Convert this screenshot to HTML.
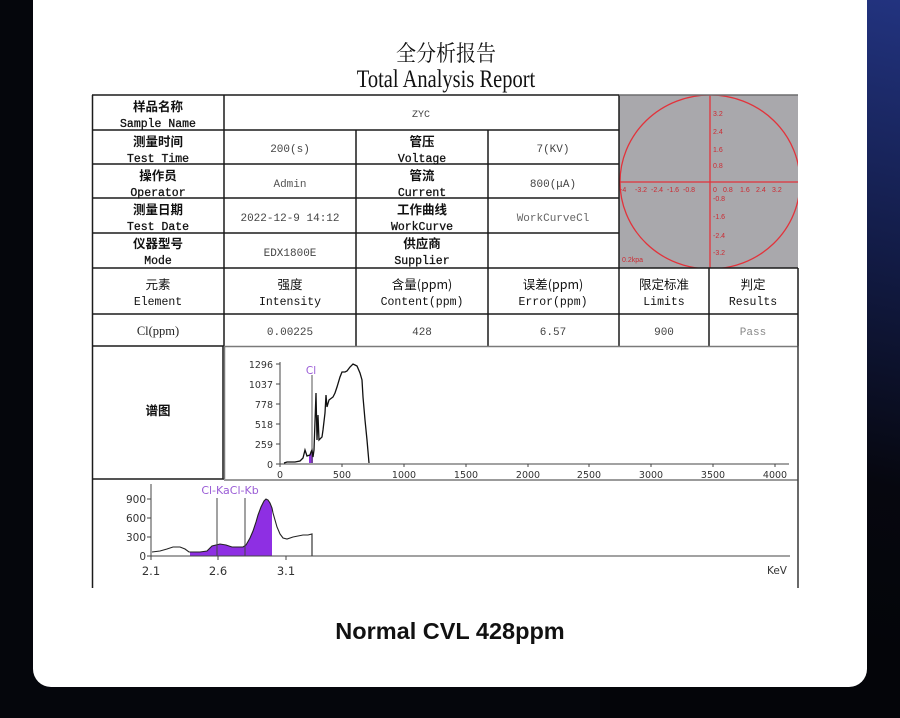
<!DOCTYPE html>
<html><head><meta charset="utf-8"><style>
html,body{margin:0;padding:0;background:#05060c;}
svg{display:block;}
</style></head><body>
<svg width="900" height="718" viewBox="0 0 900 718" xmlns="http://www.w3.org/2000/svg">
<defs>
<linearGradient id="bg" gradientUnits="userSpaceOnUse" x1="900" y1="0" x2="760" y2="620">
<stop offset="0" stop-color="#22337f"/>
<stop offset="0.4" stop-color="#121b45"/>
<stop offset="0.75" stop-color="#06070f"/>
<stop offset="1" stop-color="#040509"/>
</linearGradient>
<clipPath id="ph"><rect x="619" y="95" width="179" height="173"/></clipPath>
</defs>
<rect x="0" y="0" width="900" height="718" fill="#05060c"/>
<rect x="600" y="0" width="300" height="718" fill="url(#bg)"/>
<rect x="33" y="-30" width="834" height="717" rx="18" fill="#ffffff"/>

<!-- Title -->
<g transform="translate(446,61) scale(1,1.1)"><text x="0" y="0" text-anchor="middle" font-family="Noto Serif CJK SC, serif" font-size="20" fill="#111">全分析报告</text></g>
<g transform="translate(446,87) scale(1,1.22)"><text x="0" y="0" text-anchor="middle" font-family="Liberation Serif, serif" font-size="20.5" fill="#111">Total Analysis Report</text></g>

<!-- Photo -->
<g clip-path="url(#ph)">
<rect x="619" y="95" width="179" height="173" fill="#a9a8ac"/>
<ellipse cx="710" cy="182" rx="90" ry="87" fill="none" stroke="#e2333b" stroke-width="1.3"/>
<line x1="619" y1="182" x2="798" y2="182" stroke="#e2333b" stroke-width="1.3"/>
<line x1="710" y1="95" x2="710" y2="268" stroke="#e2333b" stroke-width="1.3"/>
<g font-family="Liberation Sans, sans-serif" font-size="7" fill="#cc2a32">
<text x="713" y="116">3.2</text><text x="713" y="134">2.4</text><text x="713" y="152">1.6</text><text x="713" y="168">0.8</text>
<text x="713" y="201">-0.8</text><text x="713" y="219">-1.6</text><text x="713" y="238">-2.4</text><text x="713" y="255">-3.2</text>
<text x="620" y="192">-4</text><text x="635" y="192">-3.2</text><text x="651" y="192">-2.4</text><text x="667" y="192">-1.6</text><text x="683" y="192">-0.8</text>
<text x="713" y="192">0</text><text x="723" y="192">0.8</text><text x="740" y="192">1.6</text><text x="756" y="192">2.4</text><text x="772" y="192">3.2</text>
<text x="622" y="262">0.2kpa</text>
</g>
</g>

<!-- Table lines -->
<g stroke="#1b1b1b" stroke-width="1.5" fill="none">
<line x1="92" y1="95" x2="619" y2="95"/>
<line x1="92" y1="130" x2="619" y2="130"/>
<line x1="92" y1="164" x2="619" y2="164"/>
<line x1="92" y1="198" x2="619" y2="198"/>
<line x1="92" y1="233" x2="619" y2="233"/>
<line x1="92" y1="268" x2="798" y2="268"/>
<line x1="92" y1="314" x2="798" y2="314"/>
<line x1="92" y1="346" x2="224" y2="346"/>
<line x1="92" y1="479" x2="224" y2="479"/>
<line x1="92.5" y1="95" x2="92.5" y2="588"/>
<line x1="224" y1="95" x2="224" y2="346"/>
<line x1="223" y1="346" x2="223" y2="479"/>
<line x1="356" y1="130" x2="356" y2="346"/>
<line x1="488" y1="130" x2="488" y2="346"/>
<line x1="619" y1="95" x2="619" y2="346"/>
<line x1="709" y1="268" x2="709" y2="346"/>
<line x1="798" y1="268" x2="798" y2="346"/>
</g>
<line x1="619" y1="95" x2="798" y2="95" stroke="#6d6d6f" stroke-width="1.5"/>
<!-- chart boxes -->
<g stroke="#7a7a7a" stroke-width="1.5" fill="none">
<line x1="224" y1="346.5" x2="798" y2="346.5"/>
<line x1="224.5" y1="346" x2="224.5" y2="479"/>
<line x1="224" y1="480" x2="798" y2="480"/>
</g>
<line x1="798" y1="346" x2="798" y2="588" stroke="#444" stroke-width="1.6"/>

<!-- Label column texts -->
<g font-family="Noto Sans CJK SC, sans-serif" font-size="12.5" font-weight="bold" fill="#111" text-anchor="middle">
<text x="158" y="111">样品名称</text>
<text x="158" y="146">测量时间</text>
<text x="158" y="180">操作员</text>
<text x="158" y="214">测量日期</text>
<text x="158" y="248">仪器型号</text>
<text x="422" y="146">管压</text>
<text x="422" y="180">管流</text>
<text x="422" y="214">工作曲线</text>
<text x="422" y="248">供应商</text>
<text x="158" y="415">谱图</text>
</g>
<g font-family="Noto Sans CJK SC, sans-serif" font-size="12.5" fill="#111" text-anchor="middle">
<text x="158" y="289">元素</text>
<text x="290" y="289">强度</text>
<text x="553" y="289">误差(ppm)</text>
<text x="422" y="289">含量(ppm)</text>
<text x="664" y="289">限定标准</text>
<text x="753" y="289">判定</text>
</g>
<g font-family="Liberation Mono, monospace" font-size="11.5" fill="#111" stroke="#111" stroke-width="0.3" text-anchor="middle">
<text x="158" y="127">Sample Name</text>
<text x="158" y="162">Test Time</text>
<text x="158" y="196">Operator</text>
<text x="158" y="230">Test Date</text>
<text x="158" y="264">Mode</text>
<text x="422" y="162">Voltage</text>
<text x="422" y="196">Current</text>
<text x="422" y="230">WorkCurve</text>
<text x="422" y="264">Supplier</text>
</g>
<g font-family="Liberation Mono, monospace" font-size="11.5" fill="#111" text-anchor="middle">
<text x="158" y="305">Element</text>
<text x="290" y="305">Intensity</text>
<text x="422" y="305">Content(ppm)</text>
<text x="553" y="305">Error(ppm)</text>
<text x="664" y="305">Limits</text>
<text x="753" y="305">Results</text>
</g>
<!-- values -->
<g font-family="Liberation Mono, monospace" font-size="11" fill="#444" text-anchor="middle">
<text x="421" y="117" font-size="10">ZYC</text>
<text x="290" y="152">200(s)</text>
<text x="553" y="152">7(KV)</text>
<text x="290" y="187" fill="#555">Admin</text>
<text x="553" y="187">800(μA)</text>
<text x="290" y="221">2022-12-9 14:12</text>
<text x="553" y="221" fill="#666">WorkCurveCl</text>
<text x="290" y="256">EDX1800E</text>
<text x="290" y="335">0.00225</text>
<text x="422" y="335">428</text>
<text x="553" y="335">6.57</text>
<text x="664" y="335">900</text>
<text x="753" y="335" fill="#888">Pass</text>
</g>
<text x="158" y="335" text-anchor="middle" font-family="Liberation Serif, serif" font-size="12.5" fill="#222">Cl(ppm)</text>

<!-- Upper chart -->
<g stroke="#444" stroke-width="1" fill="none">
<line x1="280" y1="362" x2="280" y2="464"/>
<line x1="278" y1="464" x2="789" y2="464"/>
<line x1="276" y1="364" x2="280" y2="364"/>
<line x1="276" y1="384" x2="280" y2="384"/>
<line x1="276" y1="404" x2="280" y2="404"/>
<line x1="276" y1="424" x2="280" y2="424"/>
<line x1="276" y1="444" x2="280" y2="444"/>
<line x1="276" y1="464" x2="280" y2="464"/>
<line x1="280" y1="464" x2="280" y2="467"/>
<line x1="342" y1="464" x2="342" y2="467"/>
<line x1="404" y1="464" x2="404" y2="467"/>
<line x1="466" y1="464" x2="466" y2="467"/>
<line x1="528" y1="464" x2="528" y2="467"/>
<line x1="589" y1="464" x2="589" y2="467"/>
<line x1="651" y1="464" x2="651" y2="467"/>
<line x1="713" y1="464" x2="713" y2="467"/>
<line x1="775" y1="464" x2="775" y2="467"/>
</g>
<g font-family="DejaVu Sans, sans-serif" font-size="9.5" fill="#333" text-anchor="end">
<text x="273" y="368">1296</text>
<text x="273" y="388">1037</text>
<text x="273" y="408">778</text>
<text x="273" y="428">518</text>
<text x="273" y="448">259</text>
<text x="273" y="468">0</text>
</g>
<g font-family="DejaVu Sans, sans-serif" font-size="9.5" fill="#333" text-anchor="middle">
<text x="280" y="478">0</text>
<text x="342" y="478">500</text>
<text x="404" y="478">1000</text>
<text x="466" y="478">1500</text>
<text x="528" y="478">2000</text>
<text x="589" y="478">2500</text>
<text x="651" y="478">3000</text>
<text x="713" y="478">3500</text>
<text x="775" y="478">4000</text>
</g>
<polygon points="309,463 309,456 311,452 313,455 313,463" fill="#8e2fe3"/>
<line x1="312" y1="375" x2="312" y2="463" stroke="#555" stroke-width="1"/>
<text x="311" y="374" text-anchor="middle" font-family="DejaVu Sans, sans-serif" font-size="10.5" fill="#9a5cd6">Cl</text>
<polyline fill="none" stroke="#111" stroke-width="1.3" points="284,463 287,462 295,462 300,461 303,458 305,450 307,456 310,455 311,452 312,450 313,457 314,450 316,393 317,440 318,415 319,440 322,437 323,430 325,413 326,395 327,407 329,400 333,397 335,393 337,387 340,377 342,372 345,372 347,371 350,367 353,364 355,365 357,366 360,373 362,380 363,397 365,420 367,440 369,463"/>

<!-- Lower chart -->
<polygon fill="#8e2fe3" points="190,556 190,552 200,552 207,551 212,546 220,544 226,545 232,547 243,547 246,545 250,538 253,531 256,522 258,515 261,507 264,501 266,499 268,500 270,503 272,508 272,556"/>
<polyline fill="none" stroke="#222" stroke-width="1.1" points="152,552 160,551 167,549 173,547 180,547 185,549 189,552 200,552 207,551 212,546 220,544 226,545 232,547 243,547 246,545 250,538 253,531 256,522 258,515 261,507 264,501 266,499 268,500 270,503 272,508 273,513 275,520 277,527 280,534 283,538 287,539 293,537 298,536 303,535 308,535 312,534 312,556"/>
<g stroke="#444" stroke-width="1" fill="none">
<line x1="217" y1="498" x2="217" y2="556"/>
<line x1="245" y1="498" x2="245" y2="556"/>
<line x1="151" y1="484" x2="151" y2="558"/>
<line x1="150" y1="556" x2="790" y2="556"/>
<line x1="147" y1="499" x2="151" y2="499"/>
<line x1="147" y1="518" x2="151" y2="518"/>
<line x1="147" y1="537" x2="151" y2="537"/>
<line x1="147" y1="556" x2="151" y2="556"/>
<line x1="151" y1="556" x2="151" y2="560"/>
<line x1="218" y1="556" x2="218" y2="560"/>
<line x1="286" y1="556" x2="286" y2="560"/>
</g>
<text x="230" y="494" text-anchor="middle" font-family="DejaVu Sans, sans-serif" font-size="11" fill="#9a5cd6">Cl-KaCl-Kb</text>
<g font-family="DejaVu Sans, sans-serif" font-size="10.5" fill="#333" text-anchor="end">
<text x="146" y="503">900</text>
<text x="146" y="522">600</text>
<text x="146" y="541">300</text>
<text x="146" y="560">0</text>
</g>
<g font-family="DejaVu Sans, sans-serif" font-size="11.5" fill="#333" text-anchor="middle">
<text x="151" y="575">2.1</text>
<text x="218" y="575">2.6</text>
<text x="286" y="575">3.1</text>
</g>
<text x="787" y="574" text-anchor="end" font-family="DejaVu Sans, sans-serif" font-size="10.5" fill="#333">KeV</text>

<!-- Caption -->
<text x="450" y="639" text-anchor="middle" font-family="Liberation Sans, sans-serif" font-weight="bold" font-size="23.5" fill="#111">Normal CVL 428ppm</text>
</svg>
</body></html>
